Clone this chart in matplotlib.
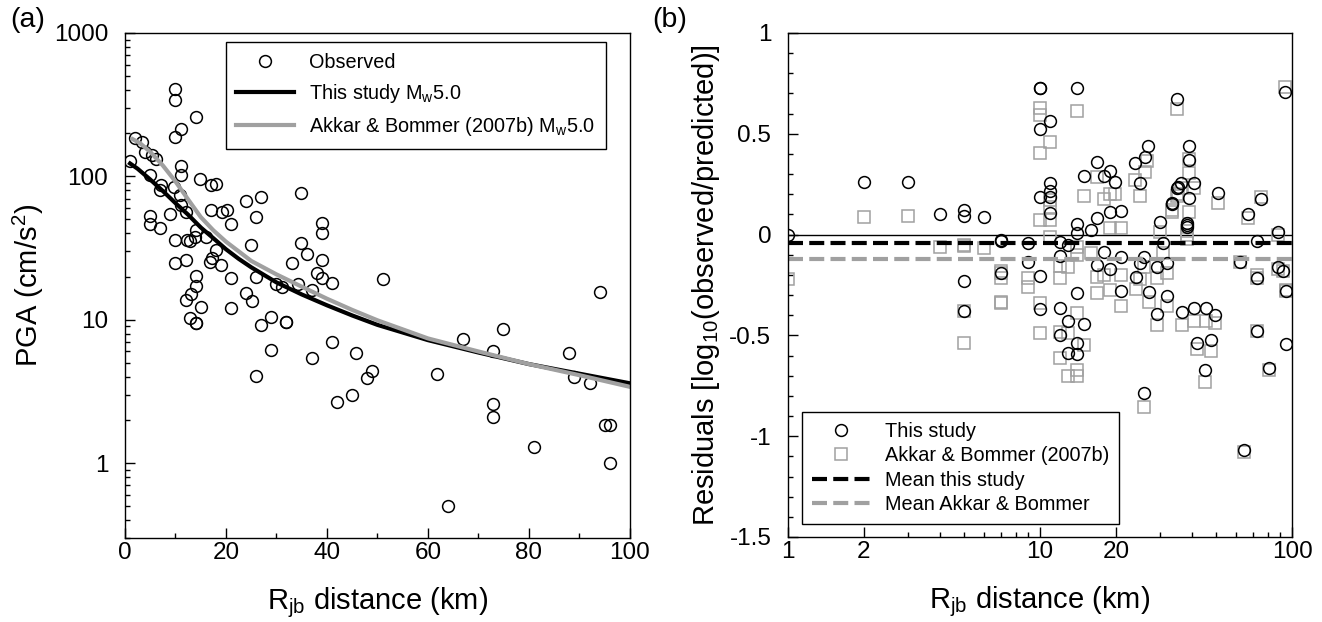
import numpy as np
import matplotlib
matplotlib.use("Agg")
import matplotlib.pyplot as plt
from matplotlib import ticker

plt.rcParams['font.family'] = ['Liberation Sans', 'DejaVu Sans']
plt.rcParams['mathtext.fontset'] = 'custom'
plt.rcParams['mathtext.rm'] = 'Liberation Sans'
plt.rcParams['mathtext.it'] = 'Liberation Sans:italic'
plt.rcParams['axes.unicode_minus'] = False

GRAY = '#a0a0a0'

# ---- (a) observed PGA vs distance ----
obs_dist = [10.0, 10.0, 14.0, 11.0, 10.0, 2.0, 3.4, 4.0, 5.3, 6.1, 1.0, 11.0, 11.0,
            5.0, 14.9, 17.0, 18.0, 7.1, 6.9, 9.7, 10.9, 23.9, 26.9, 34.9, 11.1, 12.0,
            8.9, 17.0, 19.2, 20.1, 5.0, 5.0, 6.9, 20.9, 25.9, 39.0, 39.0, 14.0, 13.9,
            9.9, 12.2, 12.9, 16.0, 18.0, 25.0, 34.9, 36.0, 17.3, 16.8, 19.0, 9.9, 12.0,
            33.0, 39.0, 38.0, 39.0, 14.0, 21.0, 25.9, 30.0, 31.0, 34.2, 37.0, 40.9,
            14.1, 13.0, 12.0, 15.0, 21.0, 24.0, 25.1, 12.9, 14.0, 14.0, 26.9, 28.9,
            31.9, 31.9, 28.9, 25.9, 37.0, 40.9, 45.7, 41.9, 45.0, 51.0, 49.0, 48.0,
            61.8, 67.0, 74.9, 72.9, 72.9, 72.9, 81.0, 87.9, 88.9, 63.9, 92.0, 94.0,
            95.0, 96.0, 96.0]
obs_pga = [405, 341, 261, 214, 189, 184, 173, 149, 141, 132, 128, 118, 102,
           103, 95.5, 86.7, 88, 87, 80, 84.8, 74, 67.7, 71.5, 77, 63, 56.7,
           54.6, 58.3, 56.7, 58.3, 53, 46.6, 43.5, 46.6, 51.8, 47, 40.5, 42.3, 37.9,
           36, 36, 35.6, 37.6, 30.6, 33.2, 34.1, 28.7, 26.8, 25.4, 24.1, 24.8, 26.1,
           25, 26.1, 21.1, 19.5, 20.2, 19.5, 19.8, 17.8, 16.8, 17.8, 16.1, 18.1,
           17.2, 15.1, 13.7, 12.3, 12.1, 15.3, 13.4, 10.3, 9.5, 9.5, 9.2, 10.5,
           9.7, 9.7, 6.1, 4.05, 5.4, 7.0, 5.9, 2.68, 3.0, 19.2, 4.4, 3.94,
           4.16, 7.3, 8.6, 6.08, 2.58, 2.08, 1.29, 5.9, 3.96, 0.5, 3.6, 15.6,
           1.85, 1.85, 1.0]

this_dist = [1, 2.5, 5, 7.5, 10, 12.5, 15, 17.5, 20, 22.5, 25, 30, 35, 40, 45, 50,
             60, 70, 80, 90, 100]
this_pga = [123, 113, 95, 79, 65, 54, 44, 37, 31, 26.6, 23.2, 18.2, 15.0, 12.6, 10.7,
            9.2, 7.2, 5.9, 4.9, 4.2, 3.6]
ab_dist = [1.5, 3, 5, 7.5, 10, 12.5, 15, 17.5, 20, 22.5, 25, 30, 35, 40, 45, 50,
           60, 70, 80, 90, 100]
ab_pga = [182, 170, 148, 119, 92, 69, 52, 42, 35, 30, 25.7, 20.7, 17, 14, 11.7, 9.9,
          7.4, 6.0, 4.9, 4.1, 3.4]

# ---- (b) residuals ----
res_this_dist = [1, 2, 3, 4, 5, 5, 5, 5, 6, 7, 7, 7, 9, 9,
                 10, 10, 10, 10, 10, 10, 11, 11, 11, 11, 11, 12, 12, 12, 12,
                 12.9, 12.9, 12.9, 14, 14, 14, 14, 14, 14, 15, 15, 16,
                 16.9, 16.9, 16.9, 17.9, 17.9, 18.9, 18.9, 18.9, 19.9, 21, 21, 21,
                 23.8, 24, 24.9, 24.9, 25.8, 25.9, 26.1, 26.9, 27, 29, 29, 30, 30.9,
                 31.9, 31.9, 33.5, 33.5, 34.9, 34.9, 35.4, 36.3, 36.7, 38.2, 38.2, 38.2,
                 39, 39, 39, 40.9, 41, 41.8, 45, 45.7, 47.8, 49.6, 51, 61.9, 64.2, 67,
                 72.8, 72.8, 72.8, 75.3, 81.3, 88, 88, 92, 94, 95, 95]
res_this = [0.0, 0.262, 0.262, 0.102, 0.122, 0.092, -0.229, -0.377, 0.089, -0.027, -0.03,
            -0.189, -0.043, -0.134,
            0.726, 0.726, 0.522, 0.188, -0.205, -0.371, 0.563, 0.254, 0.216, 0.188, 0.106,
            -0.035, -0.106, -0.366, -0.498,
            -0.052, -0.429, -0.589, 0.726, 0.053, 0.006, -0.288, -0.539, -0.594, 0.292,
            -0.443, 0.023,
            0.358, 0.081, -0.151, 0.292, -0.088, 0.317, 0.111, -0.172, 0.262, 0.119, -0.11,
            -0.278,
            0.354, -0.209, 0.257, -0.142, -0.787, -0.113, 0.386, 0.441, -0.283, -0.159,
            -0.394, 0.064, -0.043,
            -0.142, -0.305, 0.155, 0.15, 0.671, 0.23, 0.238, 0.254, -0.386, 0.059, 0.039,
            0.05,
            0.441, 0.37, 0.18, 0.254, -0.366, -0.539, -0.672, -0.366, -0.523, -0.399,
            0.208, -0.134, -1.068, 0.1,
            -0.03, -0.217, -0.477, 0.175, -0.663, 0.014, -0.159, -0.179, 0.709, -0.278,
            -0.543]

res_ab_dist = [1, 2, 3, 4, 5, 5, 5, 5, 6, 7, 7, 7, 7, 7, 9, 9,
               10, 10, 10, 10, 10, 10, 11, 11, 11, 11, 11, 12, 12, 12, 12,
               12.9, 12.9, 12.9, 14, 14, 14, 14, 14, 14, 15, 15, 16,
               16.9, 16.9, 16.9, 17.9, 17.9, 18.9, 18.9, 18.9, 19.9, 21, 21, 21,
               23.8, 24, 24.9, 24.9, 25.8, 25.9, 26.1, 26.5, 27, 29, 29, 30, 30.9,
               31.9, 31.9, 33.5, 33.5, 34.9, 34.9, 35.4, 36.3, 36.7, 38.2, 38.2, 38.2,
               39, 39, 39, 41, 41, 41.8, 45, 45.7, 47.8, 49.6, 51, 61.9, 64.2, 67,
               72.8, 72.8, 72.8, 75.3, 81.3, 88, 88, 92, 94, 95, 95]
res_ab = [-0.219, 0.087, 0.092, -0.06, -0.057, -0.05, -0.377, -0.536, -0.068,
          -0.179, -0.19, -0.217, -0.333, -0.338, -0.214, -0.261,
          0.626, 0.593, 0.403, 0.072, -0.341, -0.49, 0.461, 0.172, 0.138, 0.072, -0.01,
          -0.156, -0.217, -0.482, -0.614,
          -0.159, -0.49, -0.70, 0.615, -0.06, -0.1, -0.39, -0.672, -0.70, 0.193, -0.548,
          -0.093,
          0.284, -0.209, -0.288, 0.177, -0.2, 0.031, -0.275, 0.2, 0.201, 0.031, -0.2,
          -0.354,
          0.271, -0.271, 0.191, -0.222, -0.854, -0.159, 0.309, 0.367, -0.333, -0.217,
          -0.448, 0.014, -0.093,
          -0.192, -0.354, 0.114, 0.122, 0.622, 0.19, 0.2, 0.23, -0.448, 0.02, 0.0, -0.02,
          0.373, 0.304, 0.114, 0.23, -0.43, -0.569, -0.73, -0.43, -0.576, -0.44,
          0.155, -0.134, -1.077, 0.081,
          -0.2, -0.217, -0.477, 0.188, -0.67, -0.17, 0.0, -0.18, 0.731, -0.28, -0.275]

mean_this = -0.04
mean_ab = -0.122

fig = plt.figure(figsize=(13.22, 6.22), dpi=100)
ax1 = fig.add_axes([0.09455, 0.13505, 0.38200, 0.81190])
ax2 = fig.add_axes([0.59607, 0.13666, 0.38124, 0.81029])

for ax in (ax1, ax2):
    for s in ax.spines.values():
        s.set_linewidth(1.0)
    ax.tick_params(which='both', direction='in', top=False, right=False,
                   labelsize=17.5, width=1.0)
    ax.tick_params(which='major', length=7)
    ax.tick_params(which='minor', length=3.5)
    ax.tick_params(axis='y', pad=12)
    ax.tick_params(axis='x', pad=3)

# panel (a)
ax1.plot(obs_dist, obs_pga, 'o', mfc='none', mec='black', ms=8.5, mew=1.1,
         label='Observed')
ax1.plot(this_dist, this_pga, color='black', lw=3, label=r'This study M$_{\rm w}$5.0')
ax1.plot(ab_dist, ab_pga, color=GRAY, lw=3,
         label=r'Akkar & Bommer (2007b) M$_{\rm w}$5.0')
ax1.set_yscale('log')
ax1.set_xlim(0, 100)
ax1.set_ylim(0.3, 1000)
ax1.xaxis.set_major_locator(ticker.MultipleLocator(20))
ax1.xaxis.set_minor_locator(ticker.MultipleLocator(10))
ax1.yaxis.set_major_locator(ticker.FixedLocator([1, 10, 100, 1000]))
ax1.yaxis.set_major_formatter(ticker.FuncFormatter(lambda v, p: f"{v:g}"))
ax1.yaxis.set_minor_locator(ticker.LogLocator(subs=np.arange(2, 10)))
ax1.yaxis.set_minor_formatter(ticker.NullFormatter())
ax1.set_xlabel(r'R$_{\rm jb}$ distance (km)', fontsize=21, labelpad=15)
ax1.set_ylabel(r'PGA (cm/s$^2$)', fontsize=21, labelpad=6)
leg1 = ax1.legend(loc='upper right', bbox_to_anchor=(0.952, 0.982), borderaxespad=0,
                  fontsize=14.3, fancybox=False, framealpha=1, edgecolor='black',
                  handlelength=2.9, handletextpad=0.75, labelspacing=0.5,
                  borderpad=0.55)
leg1.get_frame().set_linewidth(1.0)

# panel (b)
ax2.axhline(0, color='black', lw=1.0, zorder=1)
ax2.plot(res_ab_dist, res_ab, 's', mfc='none', mec=GRAY, ms=8.5, mew=1.1,
         label='Akkar & Bommer (2007b)')
ax2.plot(res_this_dist, res_this, 'o', mfc='none', mec='black', ms=8.5, mew=1.1,
         label='This study')
ax2.axhline(mean_this, color='black', lw=3, ls=(0, (3.6, 1.5)), label='Mean this study')
ax2.axhline(mean_ab, color=GRAY, lw=3, ls=(0, (3.6, 1.5)), label='Mean Akkar & Bommer')
ax2.set_xscale('log')
ax2.set_xlim(1, 100)
ax2.set_ylim(-1.5, 1)
ax2.set_xticks([1, 2, 10, 20, 100], ['1', '2', '10', '20', '100'])
ax2.set_xticks([3, 4, 5, 6, 7, 8, 9, 30, 40, 50, 60, 70, 80, 90], minor=True)
ax2.xaxis.set_minor_formatter(ticker.NullFormatter())
ax2.set_yticks([-1.5, -1, -0.5, 0, 0.5, 1], ['-1.5', '-1', '-0.5', '0', '0.5', '1'])
ax2.set_yticks(np.arange(-1.5, 1.01, 0.1), minor=True)
ax2.set_xlabel(r'R$_{\rm jb}$ distance (km)', fontsize=21, labelpad=15)
ax2.set_ylabel(r'Residuals [log$_{10}$(observed/predicted)]', fontsize=21, labelpad=5)
h, l = ax2.get_legend_handles_labels()
order = [1, 0, 2, 3]
leg2 = ax2.legend([h[i] for i in order], [l[i] for i in order], loc='lower left',
                  bbox_to_anchor=(0.028, 0.026), borderaxespad=0, fontsize=14.3,
                  fancybox=False, framealpha=1, edgecolor='black', handlelength=2.9,
                  handletextpad=0.75, labelspacing=0.27, borderpad=0.5)
leg2.get_frame().set_linewidth(1.0)

fig.text(10 / 1322, 1 - 20 / 622, '(a)', fontsize=20.5, va='center', ha='left')
fig.text(652 / 1322, 1 - 20 / 622, '(b)', fontsize=20.5, va='center', ha='left')

fig.savefig('out.png', dpi=100)
